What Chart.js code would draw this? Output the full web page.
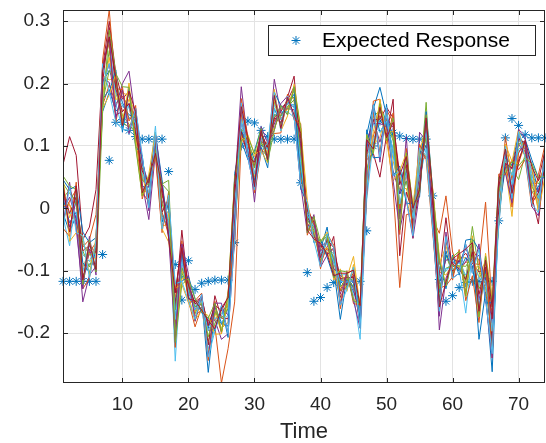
<!DOCTYPE html>
<html>
<head>
<meta charset="utf-8">
<script src="https://cdn.jsdelivr.net/npm/chart.js@4.4.1/dist/chart.umd.min.js"></script>
<style>
html,body{margin:0;padding:0;background:#ffffff;}
#wrap{width:546px;height:443px;position:relative;}
</style>
</head>
<body>
<div id="wrap"><canvas id="c" width="546" height="443"></canvas></div>
<script>
const timeSteps = [1,2,3,4,5,6,7,8,9,10,11,12,13,14,15,16,17,18,19,20,21,22,23,24,25,26,27,28,29,30,31,32,33,34,35,36,37,38,39,40,41,42,43,44,45,46,47,48,49,50,51,52,53,54,55,56,57,58,59,60,61,62,63,64,65,66,67,68,69,70,71,72,73,74];
const xTickValues = [10,20,30,40,50,60,70];
const yTickValues = [-0.2,-0.1,0,0.1,0.2,0.3];
const legendLabel = 'Expected Response';
const xAxisTitle = 'Time';

const expectedResponse = [-.117,-.117,-.117,-.117,-.117,-.117,-.074,.077,.138,.138,.125,.115,.111,.111,.111,.111,.059,-.090,-.147,-.084,-.130,-.120,-.117,-.115,-.115,-.115,-.055,.100,.140,.137,.125,.115,.111,.111,.111,.111,.041,-.103,-.149,-.143,-.127,-.119,-.117,-.117,-.117,-.117,-.036,.100,.140,.135,.121,.116,.112,.111,.111,.111,.020,-.114,-.149,-.140,-.127,-.119,-.117,-.117,-.117,-.117,-.020,.113,.144,.133,.118,.113,.113,.113];

const run01 = [-.008,-.038,-.011,-.108,-.089,-.089,.202,.221,.198,.170,.145,.140,.035,.034,.113,-.011,-.032,-.149,-.108,-.127,-.166,-.146,-.263,-.164,-.186,-.160,.016,.123,.108,.078,.098,.065,.160,.135,.170,.162,.104,-.007,-.042,-.066,-.030,-.097,-.178,-.111,-.134,-.161,.094,.160,.194,.149,.115,-.009,.063,-.028,.072,.102,.009,-.135,-.068,-.107,-.083,-.120,-.065,-.210,-.134,-.262,-.001,.083,.068,.089,.105,.024,.034,.064];
const run02 = [.022,.006,-.022,-.062,-.050,-.010,.165,.198,.168,.180,.162,.117,.025,.011,.095,.020,-.003,-.185,-.074,-.148,-.190,-.158,-.192,-.188,-.280,-.225,-.150,.113,.094,.069,.119,.095,.140,.158,.173,.178,.052,-.003,-.026,-.083,-.064,-.077,-.113,-.123,-.103,-.179,.028,.116,.149,.122,.030,-.127,-.010,-.008,.036,.130,-.017,-.040,.020,-.070,-.100,-.086,-.088,-.090,.010,-.160,-.022,.115,.045,.111,.090,.062,.011,.084];
const run03 = [.034,-.015,.018,-.094,-.070,-.098,.214,.206,.210,.144,.175,.155,.060,.020,.110,-.028,-.026,-.142,-.099,-.139,-.181,-.146,-.188,-.161,-.192,-.183,-.024,.150,.087,.050,.116,.100,.130,.152,.158,.191,.066,-.027,-.019,-.062,-.070,-.101,-.110,-.111,-.077,-.159,.086,.102,.114,.153,.076,.030,.032,-.012,.079,.140,.014,-.102,-.107,-.089,-.080,-.079,-.096,-.093,-.122,-.170,.035,.066,-.013,.108,.104,.029,.007,.093];
const run04 = [-.002,.018,-.017,-.150,-.107,-.093,.196,.232,.162,.200,.220,.140,.040,-.018,.090,.013,-.037,-.193,-.079,-.120,-.153,-.155,-.184,-.179,-.210,-.201,.032,.195,.105,.010,.113,.085,.207,.152,.160,.158,.096,-.023,-.049,-.062,-.052,-.104,-.137,-.108,-.129,-.179,.102,.142,.106,.144,.130,-.017,.115,-.044,.122,.108,.018,-.195,-.112,-.086,-.095,-.086,-.054,-.147,-.094,-.219,.030,.083,.031,.115,.094,.014,.030,.061];
const run05 = [.040,.024,.012,-.068,-.094,-.063,.180,.253,.186,.149,.135,.121,.065,.037,.103,.039,.045,-.200,-.104,-.123,-.169,-.144,-.213,-.184,-.168,-.156,-.040,.120,.110,.040,.104,.098,.171,.131,.175,.178,.059,.001,-.039,-.086,-.050,-.081,-.132,-.125,-.111,-.161,.049,.148,.156,.126,.115,.045,.070,-.032,.042,.170,-.011,-.143,-.075,-.104,-.076,-.114,-.029,-.102,-.128,-.204,.006,.069,.065,.046,.087,.051,.039,.058];
const run06 = [-.014,-.060,.024,-.101,-.060,-.084,.220,.275,.168,.127,.168,.108,.070,.041,.132,-.017,.003,-.245,-.079,-.136,-.155,-.160,-.225,-.193,-.172,-.147,.024,.143,.094,.074,.122,.080,.165,.155,.155,.146,.120,-.031,-.022,-.079,-.067,-.072,-.107,-.106,-.139,-.210,.014,.109,.143,.149,.084,.038,.076,-.004,.048,.096,-.028,-.096,-.101,-.083,-.097,-.168,-.070,-.156,-.088,-.177,.040,.087,.038,.108,.107,.056,.002,.079];
const run07 = [.070,.115,.085,-.050,-.030,.030,.226,.300,.216,.175,.188,.126,.080,.016,.093,.026,-.026,-.156,-.035,-.133,-.150,-.142,-.219,-.140,-.176,-.177,-.016,.156,.103,.065,.125,.093,.145,.138,.178,.212,.088,-.011,-.045,-.059,-.075,-.045,-.143,-.120,-.107,-.174,.078,.088,.050,.117,.175,-.076,.026,-.008,.066,.135,.014,-.108,-.015,-.101,-.083,-.072,-.088,-.102,-.099,-.212,.035,.091,.024,.078,.104,.019,-.025,.084];
const run08 = [.016,-.023,-.006,-.087,-.103,-.067,.175,.190,.156,.165,.150,.145,.045,.044,.106,-.022,.009,-.178,-.068,-.142,-.158,-.153,-.192,-.158,-.183,-.189,.040,.127,.090,.045,.101,.095,.150,.148,.168,.183,.066,-.019,-.029,-.076,-.047,-.086,-.117,-.118,-.125,-.157,.118,.166,.122,.140,.092,.023,.044,.000,.085,.125,-.017,-.150,-.075,-.092,-.100,-.079,-.092,-.165,-.099,-.233,-.008,.066,.070,.119,.097,.072,.025,.075];
const run09 = [-.020,.012,.030,-.115,-.070,-.055,.238,.318,.192,.190,.140,.160,.030,.025,.116,-.006,-.043,-.135,-.095,-.116,-.172,-.163,-.180,-.179,-.164,-.156,-.048,.169,.105,.055,.095,.083,.181,.142,.163,.174,.038,.005,-.029,-.090,-.061,-.068,-.132,-.104,-.099,-.188,.042,.154,.090,.158,.138,-.001,.057,-.036,.072,.084,.018,-.128,-.124,-.110,-.073,-.134,-.065,-.084,-.140,-.164,.045,.079,.002,.089,.109,.035,.044,.067];
const run10 = [.004,.006,-.028,-.074,-.085,-.080,.185,.242,.174,.185,.181,.112,.055,.006,.098,.007,-.009,-.208,-.113,-.113,-.166,-.148,-.232,-.167,-.198,-.152,.008,.116,.103,.083,.113,.088,.176,.128,.170,.187,.128,-.035,-.035,-.066,-.064,-.094,-.149,-.108,-.144,-.163,.056,.123,.168,.122,.123,.053,.014,-.024,.091,.130,-.006,-.090,-.060,-.098,-.092,-.120,-.075,-.111,-.083,-.197,.013,.095,.063,.073,.102,.045,-.003,.097];
const run11 = [.028,-.030,.012,-.122,-.065,-.102,.208,.202,.150,.155,.168,.135,.075,.034,.088,-.033,.021,-.163,-.085,-.133,-.163,-.140,-.196,-.193,-.160,-.171,-.008,.137,.097,.035,.107,.103,.135,.162,.168,.166,.096,-.011,-.016,-.069,-.055,-.097,-.107,-.118,-.116,-.170,.110,.136,.136,.131,.060,.023,.083,-.024,.054,.125,.005,-.114,-.083,-.081,-.087,-.065,-.084,-.075,-.116,-.184,.025,.072,.063,.104,.084,.045,.025,.067];
const run12 = [.016,.030,.006,-.056,-.075,-.071,.170,.221,.204,.138,.130,.150,.045,.037,.098,.007,-.021,-.163,-.095,-.127,-.158,-.153,-.206,-.167,-.176,-.161,.048,.127,.113,.065,.107,.078,.150,.148,.163,.174,.088,-.019,-.035,-.056,-.044,-.086,-.126,-.113,-.125,-.156,.063,.095,.162,.140,.108,.007,.044,-.016,.066,.114,.023,-.128,-.096,-.092,-.092,-.093,-.075,-.129,-.105,-.158,.025,.079,.053,.104,.102,.035,.016,.075];
const run13 = [.004,-.008,-.006,-.074,-.085,-.059,.196,.232,.186,.165,.162,.135,.055,.025,.103,.033,-.021,-.178,-.085,-.133,-.163,-.148,-.196,-.175,-.183,-.171,.008,.137,.097,.055,.113,.093,.160,.142,.168,.166,.073,-.011,-.029,-.076,-.055,-.086,-.117,-.118,-.116,-.170,.078,.136,.122,.140,.092,.007,.057,-.016,.066,.125,-.006,-.114,-.096,-.098,-.087,-.107,-.084,-.111,-.116,-.197,.013,.079,.053,.095,.102,.045,.016,.075];
const run14 = [.028,-.008,.018,-.068,-.060,-.071,.202,.290,.192,.155,.168,.121,.060,.041,.106,-.006,.015,-.135,-.057,-.123,-.153,-.144,-.188,-.155,-.164,-.143,.024,.123,.084,.074,.119,.098,.145,.155,.173,.195,.112,-.003,-.022,-.079,-.050,-.063,-.113,-.111,-.111,-.192,.086,.142,.143,.162,.145,.038,.070,-.032,.030,.145,.005,-.158,-.053,-.089,-.097,-.114,-.070,-.138,-.094,-.177,-.001,.072,.065,.111,.105,.008,.025,.064];
const run15 = [.046,.030,.036,-.038,-.055,-.047,.155,.186,.222,.122,.194,.099,.085,.001,.119,.046,-.048,-.121,-.117,-.109,-.145,-.168,-.176,-.197,-.156,-.207,.056,.109,.078,.092,.128,.075,.186,.165,.150,.195,.031,.009,-.055,-.050,-.078,-.111,-.100,-.130,-.094,-.183,.126,.081,.082,.167,.052,.068,.008,.008,.018,.155,.027,-.084,-.129,-.075,-.107,-.051,-.049,-.066,-.152,-.151,-.029,.099,.016,.123,.111,.078,.049,.049];
const run16 = [-.032,-.045,.042,-.129,-.112,-.051,.232,.264,.138,.195,.125,.165,.015,.051,.083,-.039,.027,-.223,-.052,-.151,-.148,-.136,-.244,-.149,-.201,-.134,-.056,.176,.115,.025,.089,.108,.120,.121,.183,.142,.136,-.043,-.013,-.097,-.041,-.059,-.161,-.100,-.153,-.154,.021,.172,.175,.104,.153,-.042,.096,-.048,.103,.078,-.039,-.165,-.045,-.115,-.066,-.148,-.108,-.183,-.077,-.240,.055,.054,.078,.062,.078,.003,.054,.102];
const run17 = [.052,-.053,-.039,-.044,-.107,-.047,.160,.182,.216,.133,.201,.103,.020,.055,.122,-.033,-.054,-.128,-.122,-.151,-.178,-.165,-.172,-.202,-.201,-.138,.048,.106,.118,.087,.092,.073,.191,.124,.148,.199,.128,.013,-.052,-.053,-.038,-.115,-.097,-.133,-.090,-.156,.118,.088,.175,.108,.044,.060,.089,.004,.097,.084,.032,-.078,-.124,-.078,-.069,-.141,-.044,-.174,-.072,-.145,-.022,.103,.075,.127,.081,.072,-.007,.052];
const run18 = [-.026,.042,-.033,-.129,-.045,-.107,.226,.275,.144,.190,.120,.160,.080,-.004,.119,.039,-.043,-.215,-.057,-.106,-.181,-.138,-.238,-.152,-.152,-.201,-.048,.169,.081,.030,.131,.105,.125,.168,.180,.146,.038,-.039,-.010,-.094,-.075,-.063,-.155,-.102,-.148,-.192,.028,.166,.074,.162,.044,-.034,.014,-.048,.024,.150,-.033,-.173,-.038,-.112,-.104,-.058,-.104,-.057,-.146,-.240,.050,.057,.009,.127,.113,.003,-.012,.097];
const run19 = [.052,.036,.030,-.122,-.050,-.102,.155,.286,.216,.195,.194,.099,.020,.051,.085,.039,.027,-.215,-.122,-.113,-.145,-.165,-.176,-.152,-.198,-.138,.048,.109,.115,.087,.128,.075,.125,.165,.150,.195,.128,-.039,-.013,-.053,-.041,-.111,-.100,-.102,-.148,-.154,.118,.088,.168,.108,.145,-.034,.089,.004,.024,.150,.027,-.084,-.124,-.078,-.069,-.141,-.049,-.174,-.077,-.151,.050,.057,.075,.068,.081,.072,.049,.052];
const run20 = [-.032,.036,-.039,-.044,-.112,-.051,.232,.186,.138,.127,.125,.160,.085,.001,.122,-.033,.021,-.121,-.117,-.148,-.178,-.138,-.238,-.197,-.156,-.201,-.048,.169,.081,.030,.092,.105,.186,.124,.180,.146,.038,.009,-.052,-.094,-.041,-.063,-.155,-.130,-.094,-.192,.028,.166,.082,.162,.052,.060,.014,-.044,.097,.084,-.033,-.165,-.045,-.112,-.104,-.058,-.104,-.066,-.146,-.233,-.022,.099,.016,.123,.081,.008,-.007,.097];
const run21 = [.040,-.038,.036,-.115,-.055,-.098,.220,.275,.210,.133,.188,.155,.025,.048,.088,.033,-.048,-.135,-.063,-.145,-.148,-.163,-.180,-.193,-.160,-.143,.040,.163,.113,.035,.125,.078,.181,.128,.178,.150,.120,-.035,-.049,-.056,-.073,-.108,-.104,-.104,-.099,-.156,.110,.095,.162,.113,.138,.053,.083,.000,.030,.145,.023,-.158,-.118,-.081,-.073,-.065,-.055,-.165,-.083,-.158,.045,.095,.024,.073,.109,.067,.044,.093];

const responseRuns = [run01,run02,run03,run04,run05,run06,run07,run08,run09,run10,run11,run12,run13,run14,run15,run16,run17,run18,run19,run20,run21];
const lineColors = ['#0072BD','#D95319','#EDB120','#7E2F8E','#77AC30','#4DBEEE','#A2142F'];
const markerColor = '#0072BD';
const axisColor = '#262626';
const fontFamily = "'Liberation Sans', Arial, Helvetica, sans-serif";

Chart.defaults.font.family = fontFamily;
Chart.defaults.color = axisColor;

const toPoints = arr => arr.map((v, i) => ({x: timeSteps[i], y: v}));

const datasets = [];
for (let i = responseRuns.length - 1; i >= 0; i--) {
  datasets.push({
    label: 'Run ' + (i + 1),
    data: toPoints(responseRuns[i]),
    borderColor: lineColors[i % lineColors.length],
    borderWidth: 1,
    pointRadius: 0,
    pointHoverRadius: 0,
    tension: 0,
    fill: false
  });
}
datasets.push({
  label: legendLabel,
  data: toPoints(expectedResponse),
  showLine: false,
  pointStyle: 'star',
  pointRadius: 4.5,
  pointBorderWidth: 1,
  borderColor: markerColor,
  backgroundColor: markerColor,
  clip: {left: 6, top: 6, right: 6, bottom: 6}
});

const framePlugin = {
  id: 'matlabFrame',
  afterDraw(chart) {
    const {ctx, chartArea: a, scales} = chart;
    const xs = scales.x, ys = scales.y;
    ctx.save();
    ctx.strokeStyle = axisColor;
    ctx.lineWidth = 1;
    ctx.strokeRect(a.left + 0.5, a.top + 0.5, a.right - a.left - 1, a.bottom - a.top - 1);
    ctx.beginPath();
    const tl = 5;
    xTickValues.forEach(v => {
      const px = Math.round(xs.getPixelForValue(v)) + 0.5;
      ctx.moveTo(px, a.bottom); ctx.lineTo(px, a.bottom - tl);
      ctx.moveTo(px, a.top); ctx.lineTo(px, a.top + tl);
    });
    yTickValues.forEach(v => {
      const py = Math.round(ys.getPixelForValue(v)) + 0.5;
      ctx.moveTo(a.left, py); ctx.lineTo(a.left + tl, py);
      ctx.moveTo(a.right, py); ctx.lineTo(a.right - tl, py);
    });
    ctx.stroke();

    // legend box
    const bx = 268.5, by = 25.5, bw = 267, bh = 30;
    ctx.fillStyle = '#ffffff';
    ctx.fillRect(bx, by, bw, bh);
    ctx.strokeStyle = axisColor;
    ctx.strokeRect(bx, by, bw, bh);
    ctx.strokeStyle = markerColor;
    ctx.fillStyle = markerColor;
    ctx.lineWidth = 1;
    Chart.helpers.drawPoint(ctx, {pointStyle: 'star', radius: 4.5, borderWidth: 1}, 296, 40.5);
    ctx.fillStyle = '#000000';
    ctx.font = '21px ' + fontFamily;
    ctx.textBaseline = 'middle';
    ctx.textAlign = 'left';
    ctx.fillText(legendLabel, 322, 41);
    ctx.restore();
  }
};

new Chart(document.getElementById('c'), {
  type: 'line',
  data: {datasets},
  options: {
    responsive: false,
    animation: false,
    devicePixelRatio: 1,
    layout: {autoPadding: false, padding: {left: 0, right: 1, top: 10, bottom: 0}},
    plugins: {legend: {display: false}, tooltip: {enabled: false}},
    scales: {
      x: {
        type: 'linear',
        min: 1,
        max: 74,
        afterBuildTicks: s => { s.ticks = xTickValues.map(v => ({value: v})); },
        afterFit: s => { s.height = 60; s.paddingLeft = 0; s.paddingRight = 0; },
        grid: {color: '#e3e3e3', lineWidth: 1, drawTicks: false},
        border: {display: false},
        ticks: {color: axisColor, font: {size: 19}, padding: 10, maxRotation: 0, autoSkip: false,
                callback: v => String(v)},
        title: {display: true, text: xAxisTitle, color: axisColor, font: {size: 22, lineHeight: 1}, padding: {top: 0, bottom: 0}}
      },
      y: {
        type: 'linear',
        min: -0.28,
        max: 0.318,
        afterBuildTicks: s => { s.ticks = yTickValues.map(v => ({value: v})); },
        afterFit: s => { s.width = 63; s.paddingTop = 0; s.paddingBottom = 0; },
        grid: {color: '#e3e3e3', lineWidth: 1, drawTicks: false},
        border: {display: false},
        ticks: {color: axisColor, font: {size: 19}, padding: 13, autoSkip: false,
                callback: v => String(Math.round(v * 10) / 10)}
      }
    }
  },
  plugins: [framePlugin]
});
</script>
</body>
</html>
